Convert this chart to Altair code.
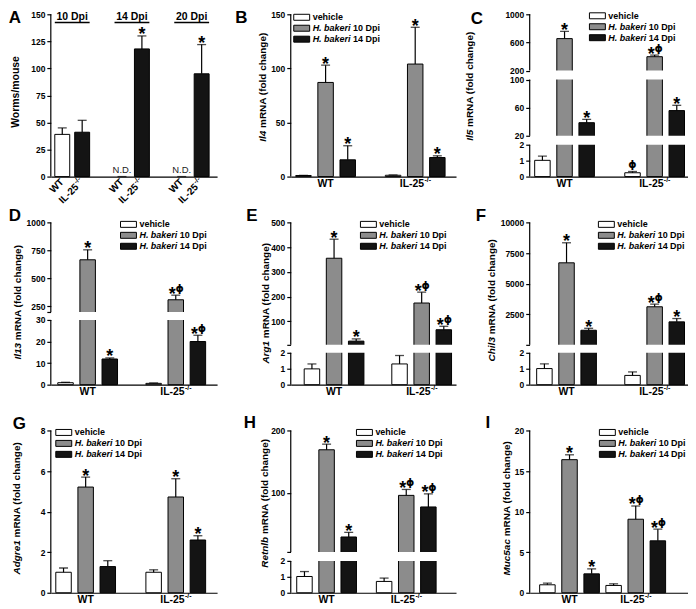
import altair as alt
import pandas as pd

FONT = "Liberation Sans"
PH = 163  # plot height of every panel

CONDS = ["vehicle", "H. bakeri 10 Dpi", "H. bakeri 14 Dpi"]
GENOS = ["WT", "IL-25-/-"]
GENO_MAIN = ["WT", "IL-25"]
GENO_SUP = ["", "-/-"]
COND_FILL = ["#ffffff", "#8c8c8c", "#141414"]
GENO_FILL = ["#ffffff", "#141414"]

# ---- Panel A: worm burden ----
A_DPI = ["10 Dpi", "14 Dpi", "20 Dpi"]
A_WT_MEAN = [39, None, None]
A_WT_SD = [6, None, None]
A_IL_MEAN = [41, 118, 95]
A_IL_SD = [11, 12, 27]
A_IL_SIG = ["", "*", "*"]
A_TICKS = [0, 25, 50, 75, 100, 125, 150]

# ---- Panels B-I, order: WT vehicle, WT 10 Dpi, WT 14 Dpi, IL-25 vehicle, IL-25 10 Dpi, IL-25 14 Dpi
IL4_MEAN = [1.0, 87, 15.5, 1.2, 104, 17.6]
IL4_SD = [0.2, 16, 13, 0.3, 34, 1.6]
IL4_SIG = ["", "*", "*", "", "*", "*"]
IL4_BREAKS = [0, 150]
IL4_TICKS = [0, 50, 100, 150]

IL5_MEAN = [1.02, 654, 38.6, 0.24, 397, 55.8]
IL5_SD = [0.27, 103, 4.7, 0.08, 23, 7.5]
IL5_SIG = ["", "*", "*", "ϕ", "*ϕ", "*"]
IL5_BREAKS = [0, 2, 20, 100, 200, 1000]
IL5_TICKS = [0, 1, 2, 20, 60, 100, 200, 600, 1000]

IL13_MEAN = [0.9, 666, 11.9, 0.6, 309, 20.0]
IL13_SD = [0.2, 89, 0.5, 0.2, 41, 2.9]
IL13_SIG = ["", "*", "*", "", "*ϕ", "*ϕ"]
IL13_BREAKS = [0, 30, 200, 1000]
IL13_TICKS = [0, 10, 20, 30, 200, 250, 500, 750, 1000]

ARG1_MEAN = [0.99, 355, 20, 1.3, 174, 66]
ARG1_SD = [0.31, 77, 9, 0.53, 44, 14]
ARG1_SIG = ["", "*", "*", "", "*ϕ", "*ϕ"]
ARG1_BREAKS = [0, 2, 5, 500]
ARG1_TICKS = [0, 1, 2, 5, 100, 200, 300, 400, 500]

CHIL3_MEAN = [1.01, 6700, 1200, 0.58, 3115, 1885]
CHIL3_SD = [0.3, 1636, 160, 0.22, 215, 270]
CHIL3_SIG = ["", "*", "*", "", "*ϕ", "*"]
CHIL3_BREAKS = [0, 2, 10, 10000]
CHIL3_TICKS = [0, 1, 2, 10, 2500, 5000, 7500, 10000]

ADGRE1_MEAN = [1.01, 5.21, 1.29, 1.01, 4.72, 2.6]
ADGRE1_SD = [0.21, 0.49, 0.29, 0.12, 0.9, 0.21]
ADGRE1_SIG = ["", "*", "", "", "*", "*"]
ADGRE1_BREAKS = [0, 8]
ADGRE1_TICKS = [0, 2, 4, 6, 8]

RETNLB_MEAN = [1.02, 169, 29, 0.71, 95.8, 77.2]
RETNLB_SD = [0.31, 9, 7.4, 0.21, 9.5, 21]
RETNLB_SIG = ["", "*", "*", "", "*ϕ", "*ϕ"]
RETNLB_BREAKS = [0, 2, 5, 200]
RETNLB_TICKS = [0, 1, 2, 5, 100, 200]

MUC5AC_MEAN = [0.98, 16.4, 2.33, 0.9, 9.06, 6.4]
MUC5AC_SD = [0.2, 0.6, 0.61, 0.2, 1.63, 1.43]
MUC5AC_SIG = ["", "*", "*", "", "*ϕ", "*ϕ"]
MUC5AC_BREAKS = [0, 20]
MUC5AC_TICKS = [0, 5, 10, 15, 20]

# ---------------------------------------------------------------- helpers
AW = {' ': 278, '(': 333, ')': 333, '-': 333, '.': 278, '/': 278,
      'A': 722, 'C': 722, 'D': 722, 'H': 722, 'I': 278, 'L': 611, 'M': 833,
      'N': 722, 'R': 722, 'T': 611, 'W': 944,
      'a': 556, 'b': 611, 'c': 556, 'd': 611, 'e': 556, 'f': 333, 'g': 611,
      'h': 611, 'i': 278, 'k': 556, 'l': 278, 'm': 889, 'n': 611, 'o': 611,
      'p': 611, 'r': 389, 's': 556, 't': 333, 'u': 611, 'v': 556}


def tw(s, size):
    return sum(AW.get(c, 556) for c in s) * size / 1000.0


def band_scale(domain, width, c_first, c_last, bw):
    n = len(domain)
    s = (c_last - c_first) / (n - 1)
    left = width - s * (n - 1) - bw
    return alt.Scale(domain=domain, paddingInner=1 - bw / s,
                     paddingOuter=left / (2 * s), align=(c_first - bw / 2) / left)


def y_axis(ticks, hidden):
    kw = dict(values=ticks, format="d", title=None, domain=False, grid=False,
              tickSize=4, tickWidth=1.2, tickColor="black", labelFont=FONT,
              labelFontSize=8.5, labelFontWeight="bold", labelColor="black",
              labelPadding=2)
    if hidden:
        kw["labelExpr"] = " || ".join(f"datum.value == {h}" for h in hidden) + " ? '' : datum.label"
    return alt.Axis(**kw)


X_AXIS = alt.Axis(title=None, labels=False, ticks=False, domain=True,
                  domainColor="black", domainWidth=1.2, grid=False)
ONE = pd.DataFrame({"k": [0]})


def txt(x, y, s, size, **kw):
    return alt.Chart(ONE).mark_text(fontSize=size, font=kw.pop("font", FONT), color="black", **kw).encode(
        x=alt.value(x), y=alt.value(y), text=alt.value(s))


def gene_title(gene, cx, cy):
    gw = tw(gene, 10)
    rest = "mRNA (fold change)"
    rw = tw(rest, 10)
    sp = tw(" ", 10)
    p = cy - (gw - rw - sp) / 2
    return [txt(cx, p, gene, 10, angle=270, align="right", baseline="middle",
                fontWeight="bold", fontStyle="italic"),
            txt(cx, p, rest, 10, angle=270, align="left", baseline="middle",
                fontWeight="bold", dx=sp)]


def legend(lx, ly):
    out = []
    for i, c in enumerate(CONDS):
        yc = ly + 11 * i
        out.append(alt.Chart(ONE).mark_rect(fill=COND_FILL[i], stroke="black", strokeWidth=1).encode(
            x=alt.value(lx), x2=alt.value(lx + 16), y=alt.value(yc - 3), y2=alt.value(yc + 3)))
        tx = lx + 19
        if c.startswith("H. bakeri"):
            sp = "H. bakeri"
            out.append(txt(tx, yc, sp, 9, align="left", baseline="middle",
                           fontWeight="bold", fontStyle="italic"))
            out.append(txt(tx + tw(sp + " ", 9), yc, c[len(sp) + 1:], 9, align="left",
                           baseline="middle", fontWeight="bold"))
        else:
            out.append(txt(tx, yc, c, 9, align="left", baseline="middle", fontWeight="bold"))
    return out


def sig_marks(base, enc):
    star = dict(fontSize=18, fontWeight="bold", baseline="alphabetic", dy=4.5, font=FONT, color="black")
    phi = dict(fontSize=10.5, fontWeight="bold", baseline="alphabetic", dy=-3, font="DejaVu Sans", color="black")
    return [
        base.transform_filter("datum.sig == '*'").mark_text(**star).encode(text=alt.value("*"), **enc),
        base.transform_filter("datum.sig == '*ϕ'").mark_text(dx=-3.5, **star).encode(text=alt.value("*"), **enc),
        base.transform_filter("datum.sig == '*ϕ'").mark_text(dx=4, **phi).encode(text=alt.value("ϕ"), **enc),
        base.transform_filter("datum.sig == 'ϕ'").mark_text(**phi).encode(text=alt.value("ϕ"), **enc),
    ]


def axis_layers(breaks, ysc, yax, width):
    segs = [(breaks[i], breaks[i + 1]) for i in range(0, len(breaks), 2)]
    gaps = [(breaks[i], breaks[i + 1]) for i in range(1, len(breaks) - 1, 2)]
    out = []
    if gaps:
        gdf = pd.DataFrame({"lo": [g[0] for g in gaps], "hi": [g[1] for g in gaps]})
        out.append(alt.Chart(gdf).mark_rect(fill="white").encode(
            x=alt.value(0.6), x2=alt.value(width),
            y=alt.Y("lo:Q", scale=ysc, axis=yax), y2="hi:Q"))
    sdf = pd.DataFrame({"lo": [s[0] for s in segs], "hi": [s[1] for s in segs]})
    out.append(alt.Chart(sdf).mark_rule(color="black", strokeWidth=1.2).encode(
        x=alt.value(0), y=alt.Y("lo:Q", scale=ysc, axis=yax), y2="hi:Q"))
    return out


def gene_panel(letter, gene, mean, sd, sig, breaks, ticks, width, centers, rng,
               hidden, letter_xy, title_xy, legend_xy):
    df = pd.DataFrame({"geno": [g for g in GENOS for _ in CONDS], "cond": CONDS * 2,
                       "mean": mean, "sd": sd, "sig": sig})
    ysc = alt.Scale(domain=breaks, range=rng, nice=False)
    yax = y_axis(ticks, hidden)
    X = alt.X("geno:N", scale=band_scale(GENOS, width, centers[0], centers[1], 60), axis=X_AXIS)
    XO = alt.XOffset("cond:N", scale=alt.Scale(domain=CONDS, paddingInner=0.3, paddingOuter=0))
    base = alt.Chart(df).transform_calculate(hi="datum.mean + datum.sd")
    bars = base.mark_bar(stroke="black", strokeWidth=1).encode(
        x=X, xOffset=XO, y=alt.Y("mean:Q", scale=ysc, axis=yax),
        color=alt.Color("cond:N", scale=alt.Scale(domain=CONDS, range=COND_FILL), legend=None))
    whisk = base.mark_rule(color="black", strokeWidth=1.2).encode(
        x=X, xOffset=XO, y=alt.Y("mean:Q", scale=ysc, axis=yax), y2="hi:Q")
    cap = base.mark_tick(color="black", thickness=1.3, size=9).encode(
        x=X, xOffset=XO, y=alt.Y("hi:Q", scale=ysc, axis=yax))
    layers = [bars, whisk, cap]
    layers += axis_layers(breaks, ysc, yax, width)
    layers += sig_marks(base, dict(x=X, xOffset=XO, y=alt.Y("hi:Q", scale=ysc, axis=yax)))
    # x labels
    lab = alt.Chart(pd.DataFrame({"geno": GENOS, "main": GENO_MAIN, "sup": GENO_SUP}))
    wm, ws = tw("IL-25", 10.5), tw("-/-", 7)
    off = (wm + ws) / 2 - ws
    layers += [
        lab.transform_filter("datum.sup == ''").mark_text(fontSize=10.5, fontWeight="bold", baseline="middle",
                                                           font=FONT, color="black").encode(
            x=X, y=alt.value(PH + 7), text="main:N"),
        lab.transform_filter("datum.sup != ''").mark_text(fontSize=10.5, fontWeight="bold", baseline="middle",
                                                           align="right", dx=off, font=FONT, color="black").encode(
            x=X, y=alt.value(PH + 7), text="main:N"),
        lab.transform_filter("datum.sup != ''").mark_text(fontSize=7, fontWeight="bold", baseline="middle",
                                                           align="left", dx=off + 0.3, dy=-4, font=FONT,
                                                           color="black").encode(
            x=X, y=alt.value(PH + 7), text="sup:N"),
    ]
    layers += legend(*legend_xy)
    layers += gene_title(gene, *title_xy)
    layers.append(txt(letter_xy[0], letter_xy[1], letter, 17, fontWeight="bold", align="center", baseline="middle"))
    return alt.layer(*layers).properties(width=width, height=PH)


def panel_a(width):
    df = pd.DataFrame({
        "dpi": A_DPI * 2,
        "geno": [GENOS[0]] * 3 + [GENOS[1]] * 3,
        "main": [GENO_MAIN[0]] * 3 + [GENO_MAIN[1]] * 3,
        "sup": [GENO_SUP[0]] * 3 + [GENO_SUP[1]] * 3,
        "mean": A_WT_MEAN + A_IL_MEAN,
        "sd": A_WT_SD + A_IL_SD,
        "sig": ["", "", ""] + A_IL_SIG,
    })
    ysc = alt.Scale(domain=[A_TICKS[0], A_TICKS[-1]], nice=False)
    yax = y_axis(A_TICKS, [])
    X = alt.X("dpi:N", scale=band_scale(A_DPI, width, 21.5, 141.5, 35), axis=X_AXIS)
    XO = alt.XOffset("geno:N", scale=alt.Scale(domain=GENOS, paddingInner=0.25, paddingOuter=0))
    base = alt.Chart(df).transform_calculate(hi="datum.mean + datum.sd")
    bars = base.mark_bar(stroke="black", strokeWidth=1).encode(
        x=X, xOffset=XO, y=alt.Y("mean:Q", scale=ysc, axis=yax),
        color=alt.Color("geno:N", scale=alt.Scale(domain=GENOS, range=GENO_FILL), legend=None))
    whisk = base.mark_rule(color="black", strokeWidth=1.2).encode(
        x=X, xOffset=XO, y=alt.Y("mean:Q", scale=ysc, axis=yax), y2="hi:Q")
    cap = base.mark_tick(color="black", thickness=1.3, size=9).encode(
        x=X, xOffset=XO, y=alt.Y("hi:Q", scale=ysc, axis=yax))
    layers = [bars, whisk, cap]
    layers += axis_layers([A_TICKS[0], A_TICKS[-1]], ysc, yax, width)
    layers += sig_marks(base, dict(x=X, xOffset=XO, y=alt.Y("hi:Q", scale=ysc, axis=yax)))
    nd = base.transform_filter("datum.mean == null").mark_text(fontSize=9.5, font=FONT, color="#222222").encode(
        x=X, xOffset=XO, y=alt.value(PH - 7), text=alt.value("N.D."))
    ws = tw("-/-", 7)
    rot = dict(angle=315, align="right", baseline="middle", fontWeight="bold", font=FONT, color="black")
    rl = [
        base.transform_filter("datum.sup == ''").mark_text(fontSize=10, **rot).encode(
            x=X, xOffset=XO, y=alt.value(PH + 4), text="main:N"),
        base.transform_filter("datum.sup != ''").mark_text(fontSize=10, dx=-(ws + 0.5), **rot).encode(
            x=X, xOffset=XO, y=alt.value(PH + 4), text="main:N"),
        base.transform_filter("datum.sup != ''").mark_text(fontSize=7, dy=-3.5, **rot).encode(
            x=X, xOffset=XO, y=alt.value(PH + 4), text="sup:N"),
    ]
    grp = alt.Chart(pd.DataFrame({"dpi": A_DPI}))
    top = [
        grp.mark_text(fontSize=10.5, fontWeight="bold", baseline="alphabetic", font=FONT, color="black").encode(
            x=X, y=alt.value(6), text="dpi:N"),
        grp.mark_bar(color="black").encode(x=X, y=alt.value(7.6), y2=alt.value(8.9)),
    ]
    layers += [nd] + rl + top
    layers.append(txt(-35, 78, "Worms/mouse", 10.5, angle=270, align="center", baseline="middle", fontWeight="bold"))
    layers.append(txt(-36, 4, "A", 17, fontWeight="bold", align="center", baseline="middle"))
    return alt.layer(*layers).properties(width=width, height=PH)


W1, W2, W3 = 167, 166, 159

pA = panel_a(W1)
pB = gene_panel("B", "Il4", IL4_MEAN, IL4_SD, IL4_SIG, IL4_BREAKS, IL4_TICKS, W2, (35, 125),
                [PH, 0], [], (-49.5, 4), (-27.5, 73), (3, 3))
pC = gene_panel("C", "Il5", IL5_MEAN, IL5_SD, IL5_SIG, IL5_BREAKS, IL5_TICKS, W3, (35, 125.5),
                [PH, 131, 122, 65.5, 56.5, 0], [], (-53, 5), (-59.5, 72), (60, 1.5))
pD = gene_panel("D", "Il13", IL13_MEAN, IL13_SD, IL13_SIG, IL13_BREAKS, IL13_TICKS, W1, (37, 125.5),
                [PH, 98, 90, 0], [200], (-36, -6), (-33, 80), (70, 2))
pE = gene_panel("E", "Arg1", ARG1_MEAN, ARG1_SD, ARG1_SIG, ARG1_BREAKS, ARG1_TICKS, W2, (43.5, 131.5),
                [PH, 131, 123, 0], [5], (-39, -6), (-24.5, 81), (70, 2))
pF = gene_panel("F", "Chil3", CHIL3_MEAN, CHIL3_SD, CHIL3_SIG, CHIL3_BREAKS, CHIL3_TICKS, W3, (37, 125.5),
                [PH, 131, 123, 0], [10], (-49, -6), (-38, 78), (69, 2))
pG = gene_panel("G", "Adgre1", ADGRE1_MEAN, ADGRE1_SD, ADGRE1_SIG, ADGRE1_BREAKS, ADGRE1_TICKS, W1, (35, 125.5),
                [PH, 0], [], (-31.5, -6), (-34, 78), (5, 2))
pH = gene_panel("H", "Retnlb", RETNLB_MEAN, RETNLB_SD, RETNLB_SIG, RETNLB_BREAKS, RETNLB_TICKS, W2, (36, 116),
                [PH, 131, 122, 0], [5], (-41, -7), (-25.5, 73), (66, 2))
pI = gene_panel("I", "Muc5ac", MUC5AC_MEAN, MUC5AC_SD, MUC5AC_SIG, MUC5AC_BREAKS, MUC5AC_TICKS, W3, (40, 106.5),
                [PH, 0], [], (-42, -7), (-23, 78), (70, 2))

chart = alt.concat(
    pA, pB, pC, pD, pE, pF, pG, pH, pI,
    columns=3, spacing={"row": 46, "column": 74}, bounds="flush", align="each", padding=0,
).resolve_scale(
    x="independent", y="independent", color="independent", xOffset="independent"
).configure(font=FONT).configure_view(stroke=None)

chart.save("out.html", embed_options={"renderer": "svg", "actions": False})
